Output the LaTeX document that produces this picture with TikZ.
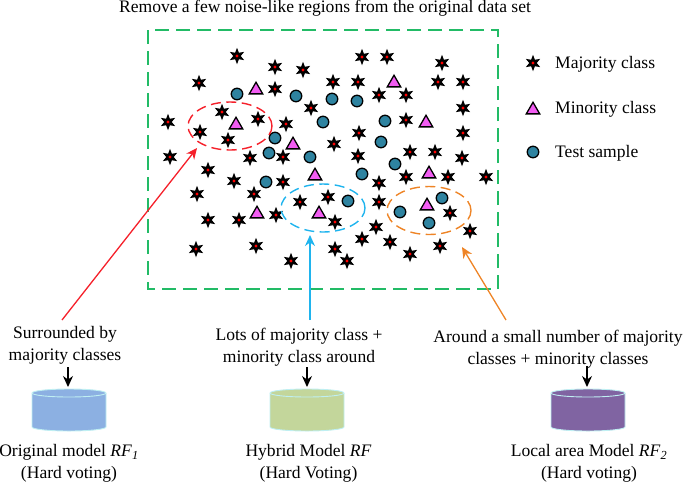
\documentclass[tikz,border=0pt]{standalone}
\usepackage{fontspec}
\setmainfont{Liberation Serif}
\usetikzlibrary{arrows.meta,shapes.geometric}
\definecolor{boxgreen}{HTML}{22BB66}
\definecolor{redline}{HTML}{F5202A}
\definecolor{blueline}{HTML}{1FB4EE}
\definecolor{orangeline}{HTML}{EE8426}
\definecolor{testblue}{HTML}{2E83A0}
\definecolor{minmag}{HTML}{F25CF2}
\definecolor{cylA}{HTML}{8CB0E2}
\definecolor{cylB}{HTML}{C3D69B}
\definecolor{cylC}{HTML}{8064A2}
\definecolor{cylEdge}{HTML}{BFEFF2}
\tikzset{
  majstar/.style={star,star points=6,star point ratio=2.2,minimum size=16.5pt,inner sep=0pt,fill=black,draw=none,
    path picture={\fill[red] (path picture bounding box.center) circle (1.7pt);}},
  minor/.style={regular polygon,regular polygon sides=3,minimum size=15.5pt,inner sep=0pt,fill=minmag,draw=black,line width=1.3pt,yshift=-2pt},
  testpt/.style={circle,minimum size=11.5pt,inner sep=0pt,fill=testblue,draw=black,line width=1.3pt},
  region/.style={ellipse,draw=#1,dash pattern=on 10pt off 5.5pt,line width=1.4pt,minimum width=84pt,minimum height=48pt,inner sep=0pt},
  lbl/.style={align=center,inner sep=0pt,font=\fontsize{17.55}{22}\selectfont},
  model/.style={rectangle,minimum width=74pt,minimum height=42pt,inner sep=0pt,outer sep=0pt},
  pointer/.style={-{Stealth[length=11pt,width=10pt]},line width=1.3pt},
  down/.style={-{Stealth[length=11pt,width=10pt]},line width=1.2pt,black,shorten >=2pt}
}
\begin{document}
\begin{tikzpicture}[x=1pt,y=-1pt]
\useasboundingbox (0,0) rectangle (685,483);
\node[lbl] (title) at (325,8.5) {Remove a few noise-like regions from the original data set};
\draw[boxgreen,line width=1.5pt,dash pattern=on 14pt off 7pt] (148,30) rectangle (498,289);
\foreach \x/\y [count=\i] in {237/56,275/67,303/70,199/83,275/89,311/108,222/112,258/119,286/124,168/122,200/132,228/140,170/157,250/158,283/157,
  362/57,387/57,442/63,333/82,358/82,438/82,463/82,379/95,406/95,463/108,406/120,359/133,463/133,334/144,410/152,435/152,358/156,462/158,
  208/170,234/181,283/182,197/194,254/194,300/202,328/197,208/220,239/220,276/215,256/246,196/249,291/261,
  379/183,406/177,448/177,486/177,379/202,450/213,335/222,376/227,470/231,362/239,390/242,440/246,335/249,410/254,347/261}
  \node[majstar] (s\i) at (\x,\y) {};
\foreach \x/\y [count=\i] in {256/88,236/123,293/143,394/81,426/121,315/174,257/212,319/212,429/172,427/204}
  \node[minor] (t\i) at (\x,\y) {};
\foreach \x/\y [count=\i] in {237/94,296/96,323/122,275/138,269/153,310/157,332/99,357/101,385/121,381/142,395/164,266/182,362/174,348/201,442/198,400/212,429/223}
  \node[testpt] (c\i) at (\x,\y) {};
\node[region=redline] (redE) at (230,126) {};
\node[region=blueline] (blueE) at (323,208) {};
\node[region=orangeline] (orangeE) at (429,210.5) {};
% legend
\node[majstar] (legS) at (533,63) {};
\node[minor] (legT) at (533,108) {};
\node[testpt] (legC) at (533,152) {};
\node[lbl,anchor=west] (legSt) at (555,64) {Majority class};
\node[lbl,anchor=west] (legTt) at (555,109) {Minority class};
\node[lbl,anchor=west] (legCt) at (555,153) {Test sample};
% labels
\node[lbl] (l1) at (65,345.5) {Surrounded by\\majority classes};
\node[lbl] (l2) at (299,347.5) {Lots of majority class +\\minority class around};
\node[lbl] (l3) at (558,349.5) {Around a small number of majority\\classes + minority classes};
% models
\node[model] (m1) at (69,410) {};
\node[model] (m2) at (307,410) {};
\node[model] (m3) at (588,410) {};
\foreach \m/\col in {m1/cylA,m2/cylB,m3/cylC}{
  \begin{scope}[shift={(\m.center)}]
    \path[fill=\col,draw=cylEdge,line width=0.9pt] (-37,-17) -- (-37,17) arc (180:0:37 and 4) -- (37,-17) arc (0:-180:37 and 4) -- cycle;
    \draw[cylEdge,line width=0.9pt] (-37,-17) arc (180:0:37 and 4);
  \end{scope}
}
\node[lbl] (n1) at (69,463.5) {Original model \textit{RF}\textsubscript{\textit{1}}\\(Hard voting)};
\node[lbl] (n2) at (308.5,463.5) {Hybrid Model \textit{RF}\\(Hard Voting)};
\node[lbl] (n3) at (589,463.5) {Local area Model \textit{RF}\textsubscript{\textit{2}}\\(Hard voting)};
% connectors
\coordinate (r0) at (62,320); \coordinate (r1) at (197,148);
\coordinate (b0) at (310,320); \coordinate (b1) at (310,235);
\coordinate (o0) at (506,320); \coordinate (o1) at (462,247);
\draw[pointer,redline] (r0) -- (r1);
\draw[pointer,blueline] (b0) -- (b1);
\draw[pointer,orangeline] (o0) -- (o1);
\coordinate (d1) at (68,367); \coordinate (d2) at (307,367); \coordinate (d3) at (587,366);
\draw[down] (d1) -- (d1 |- m1.north);
\draw[down] (d2) -- (d2 |- m2.north);
\draw[down] (d3) -- (d3 |- m3.north);
\end{tikzpicture}
\end{document}
